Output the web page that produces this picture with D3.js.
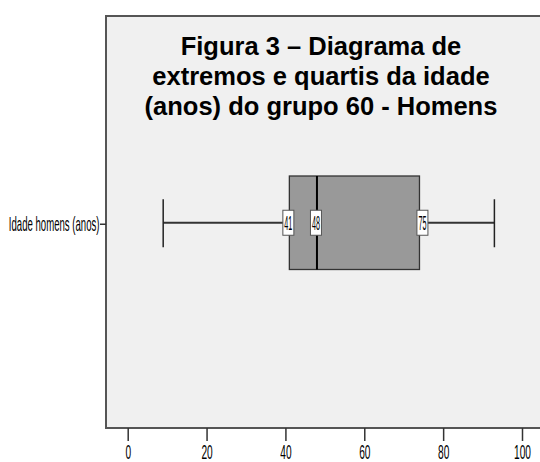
<!DOCTYPE html>
<html><head><meta charset="utf-8">
<script src="https://cdn.jsdelivr.net/npm/d3@7"></script>
<style>html,body{margin:0;padding:0;background:#fff;overflow:hidden}</style>
</head><body>
<svg id="c" width="540" height="462"></svg>
<script>
const titleLines = ["Figura 3 – Diagrama de", "extremos e quartis da idade", "(anos) do grupo 60 - Homens"];
const categories = ["Idade homens (anos)"];
const minValues = [9];
const q1Values = [41];
const medianValues = [48];
const q3Values = [74];
const maxValues = [93];
const boxLabelValues = [41, 48, 75];
const boxLabelTexts = ["41", "48", "75"];
const xTicks = [0, 20, 40, 60, 80, 100];

const svg = d3.select("#c");
const frame = {left: 106, top: 16, right: 543, bottom: 428};
const x = d3.scaleLinear().domain([0, 100]).range([127.7, 522]);
const y = d3.scaleBand().domain(categories).range([176, 269.5]);
const yc = c => y(c) + y.bandwidth() / 2;
const font = "'Liberation Sans', Arial, sans-serif";

svg.append("rect").attr("x", frame.left).attr("y", frame.top)
  .attr("width", frame.right - frame.left).attr("height", frame.bottom - frame.top)
  .attr("fill", "#f0f0f0").attr("stroke", "#555").attr("stroke-width", 2);

// title
const title = svg.append("text").attr("text-anchor", "middle")
  .attr("font-family", font)
  .attr("font-weight", "bold").attr("font-size", 25.5).attr("fill", "#000");
titleLines.forEach((t, i) => {
  title.append("tspan").attr("x", 321).attr("y", 55 + i * 30).text(t);
});

const g = svg.append("g");
categories.forEach((c, i) => {
  const cy = yc(c);
  const top = y(c), h = y.bandwidth();
  g.append("line").attr("x1", x(minValues[i])).attr("x2", x(maxValues[i]))
    .attr("y1", cy).attr("y2", cy).attr("stroke", "#333").attr("stroke-width", 2);
  [minValues[i], maxValues[i]].forEach(v => {
    g.append("line").attr("x1", x(v)).attr("x2", x(v)).attr("y1", cy - 23.5).attr("y2", cy + 24.5)
      .attr("stroke", "#222").attr("stroke-width", 1.5);
  });
  g.append("rect").attr("x", x(q1Values[i])).attr("y", top)
    .attr("width", x(q3Values[i]) - x(q1Values[i])).attr("height", h)
    .attr("fill", "#999").attr("stroke", "#333").attr("stroke-width", 1.3);
  g.append("line").attr("x1", x(medianValues[i])).attr("x2", x(medianValues[i]))
    .attr("y1", top).attr("y2", top + h).attr("stroke", "#000").attr("stroke-width", 2);
  boxLabelValues.forEach((v, j) => {
    const lx = x(v) - 1;
    g.append("rect").attr("x", lx - 5.5).attr("y", cy - 12.5).attr("width", 11).attr("height", 25)
      .attr("fill", "#fff").attr("stroke", "#555").attr("stroke-width", 1);
    g.append("text").attr("transform", `translate(${lx},${cy + 7.5}) scale(0.36,1)`)
      .attr("text-anchor", "middle").attr("font-family", font)
      .attr("font-size", 20).attr("fill", "#000").text(boxLabelTexts[j]);
  });
  svg.append("line").attr("x1", 100).attr("x2", frame.left).attr("y1", cy + 1.5).attr("y2", cy + 1.5)
    .attr("stroke", "#333").attr("stroke-width", 1.5);
  svg.append("text").attr("transform", `translate(99.5,${cy + 8.5}) scale(0.48,1)`)
    .attr("text-anchor", "end").attr("font-family", font)
    .attr("font-size", 20).attr("fill", "#000").text(c);
});

// x axis
const ax = svg.append("g").attr("transform", `translate(0,${frame.bottom})`)
  .call(d3.axisBottom(x).tickValues(xTicks).tickSize(13).tickSizeOuter(0).tickPadding(4));
ax.select(".domain").remove();
ax.selectAll(".tick line").attr("stroke", "#333").attr("stroke-width", 1.5);
ax.selectAll(".tick text").attr("font-family", font)
  .attr("font-size", 19.5).attr("fill", "#000").attr("transform", "scale(0.52,1)");
</script>
</body></html>
